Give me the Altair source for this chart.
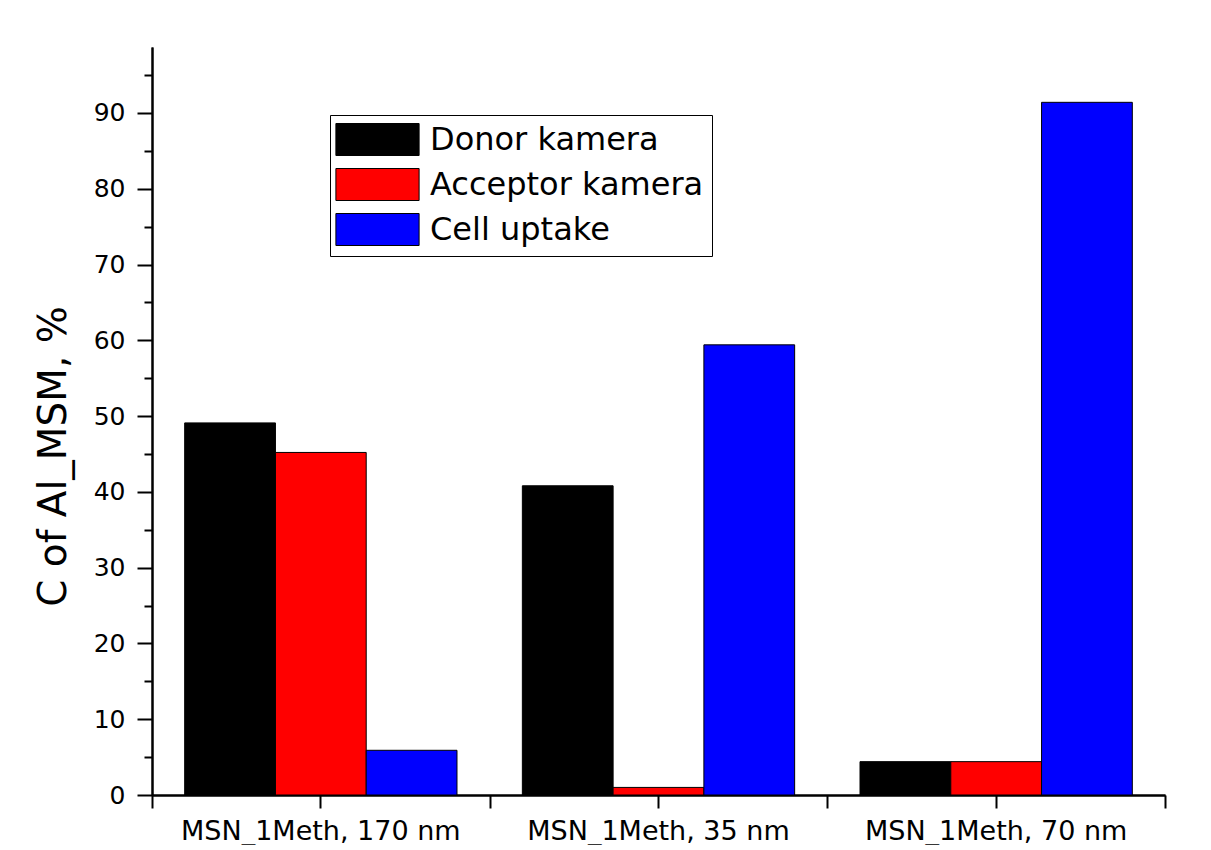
import altair as alt
import pandas as pd

categories = ["MSN_1Meth, 170 nm", "MSN_1Meth, 35 nm", "MSN_1Meth, 70 nm"]
series = ["Donor kamera", "Acceptor kamera", "Cell uptake"]
donor = [49.1, 40.8, 4.4]
acceptor = [45.2, 1.0, 4.4]
cell = [5.9, 59.4, 91.4]
colors = ["#000000", "#ff0000", "#0000ff"]
major_ticks = [0, 10, 20, 30, 40, 50, 60, 70, 80, 90]
minor_ticks = [5, 15, 25, 35, 45, 55, 65, 75, 85, 95]
y_max = 98.7

rows = []
for s, vals in zip(series, [donor, acceptor, cell]):
    for c, v in zip(categories, vals):
        rows.append({"cat": c, "series": s, "value": v})
df = pd.DataFrame(rows)

FONT = "DejaVu Sans"

xscale = alt.Scale(domain=categories, paddingInner=0, paddingOuter=0)
yscale = alt.Scale(domain=[0, y_max], nice=False)
offscale = alt.Scale(domain=series, paddingInner=0, paddingOuter=0.36)

base = alt.Chart(df)

bars = base.mark_bar(stroke="black", strokeWidth=1).encode(
    x=alt.X("cat:N", scale=xscale, sort=categories,
            axis=alt.Axis(title=None, orient="bottom", labelAngle=0,
                          labelFontSize=27, labelFont=FONT, labelColor="black",
                          labelLimit=0, labelPadding=10, tickSize=13, tickWidth=2,
                          domainWidth=2, domainColor="black", tickColor="black")),
    xOffset=alt.XOffset("series:N", scale=offscale, sort=series),
    y=alt.Y("value:Q", scale=yscale,
            axis=alt.Axis(title="C of Al_MSM, %", orient="left", values=major_ticks,
                          labelFontSize=25, labelFont=FONT, labelColor="black",
                          labelPadding=12, tickSize=15, tickWidth=2,
                          domainWidth=2, domainColor="black", tickColor="black",
                          titleFontSize=39, titleFont=FONT, titleFontWeight="normal",
                          titleColor="black", titlePadding=20, titleY=409, grid=False)),
    color=alt.Color("series:N", sort=series,
                    scale=alt.Scale(domain=series, range=colors),
                    legend=alt.Legend(title=None, orient="none", legendX=178, legendY=68,
                                      symbolType="M-2.6,-1H2.6V1H-2.6Z", symbolSize=1024,
                                      symbolStrokeColor="black", symbolStrokeWidth=1,
                                      symbolOpacity=1, symbolOffset=23,
                                      labelFontSize=32, labelFont=FONT, labelColor="black",
                                      labelLimit=0, labelOffset=36, rowPadding=8,
                                      strokeColor="black", fillColor="white",
                                      padding=8, offset=0)),
)

minor = base.mark_bar(opacity=0).encode(
    x=alt.X("cat:N", scale=xscale, sort=categories,
            axis=alt.Axis(title=None, orient="bottom", labels=False, tickBand="extent",
                          tickSize=13, tickWidth=2, domainWidth=2,
                          domainColor="black", tickColor="black")),
    xOffset=alt.XOffset("series:N", scale=offscale, sort=series),
    y=alt.Y("value:Q", scale=yscale,
            axis=alt.Axis(title=None, orient="left", values=minor_ticks, labels=False,
                          tickSize=8, tickWidth=2, domainWidth=2,
                          domainColor="black", tickColor="black", grid=False)),
)

chart = alt.layer(minor, bars).resolve_axis(x="independent", y="independent").properties(
    width=1013, height=748,
    autosize=alt.AutoSizeParams(type="none"),
    padding={"left": 144, "top": 39, "right": 30, "bottom": 50},
    background="white",
).configure_view(stroke=None)

chart.save("out.html", embed_options={"renderer": "svg", "actions": False})
